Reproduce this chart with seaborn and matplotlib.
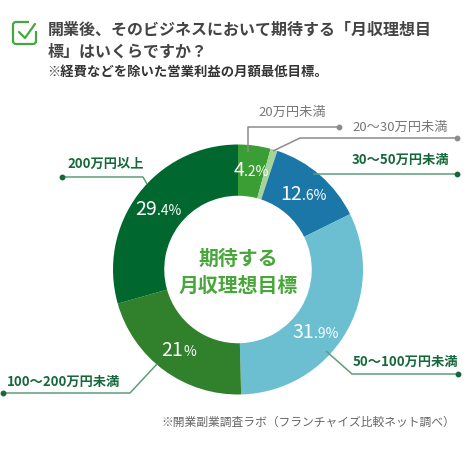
import matplotlib
matplotlib.use("Agg")
import matplotlib.pyplot as plt
import seaborn as sns
import numpy as np
from matplotlib.patches import FancyBboxPatch, Rectangle
from matplotlib.offsetbox import TextArea, HPacker, AnnotationBbox

sns.set_theme(style="white")
plt.rcParams['font.family'] = ['Noto Sans CJK JP', 'DejaVu Sans']

# data
categories = ["20万円未満", "20～30万円未満", "30～50万円未満",
              "50～100万円未満", "100～200万円未満", "200万円以上"]
shares = [4.2, 0.9, 12.6, 31.9, 21.0, 29.4]
pct_main = ["4", None, "12", "31", "21", "29"]
pct_tail = [".2%", None, ".6%", ".9%", "%", ".4%"]
colors = sns.color_palette(["#3b9e35", "#a5d39a", "#1b77a7", "#6bbfd1", "#31802b", "#00672f"])

# small angular nudge for label placement (degrees, clockwise)
label_nudge = [0, 0, 0, 8, 0, 0]

W, H = 470, 450
def py(y):
    # pixel row (top-down) -> data y (bottom-up)
    return H - y

fig = plt.figure(figsize=(4.7, 4.5), dpi=100)
ax = fig.add_axes([0, 0, 1, 1])

cx, cy, R = 238, py(269.5), 125
wedges, _ = ax.pie(shares, colors=colors, startangle=90, counterclock=False,
                   center=(cx, cy), radius=R,
                   wedgeprops=dict(width=R * 0.41, linewidth=0))

# percent labels (big integer part + small decimal part)
for w, a, b, nd in zip(wedges, pct_main, pct_tail, label_nudge):
    if a is None:
        continue
    ang = np.deg2rad((w.theta1 + w.theta2) / 2 - nd)
    x = cx + 100 * np.cos(ang)
    y = cy + 100 * np.sin(ang)
    box = HPacker(children=[
        TextArea(a, textprops=dict(color="white", fontsize=14)),
        TextArea(b, textprops=dict(color="white", fontsize=10)),
    ], align="baseline", pad=0, sep=0)
    ax.add_artist(AnnotationBbox(box, (x, y), frameon=False, box_alignment=(0.5, 0.5)))

# center text
ax.text(cx, py(258), "期待する", ha="center", va="center", fontsize=14.3,
        fontweight="bold", color="#48a63b")
ax.text(cx, py(285), "月収理想目標", ha="center", va="center", fontsize=14.3,
        fontweight="bold", color="#48a63b")

# leader lines: path in pixel coords, label position, colors
gray_line, gray_txt = "#8c8c8c", "#777777"
green_line, green_txt = "#5b9e79", "#16683a"
leaders = [
    ([(248, 152), (248, 127), (339, 127)], (258, 112), gray_line, gray_txt, "normal"),
    ([(273, 151), (300, 138), (457, 138)], (352, 127), gray_line, gray_txt, "normal"),
    ([(313, 174), (457, 174)], (352, 160), green_line, green_txt, "bold"),
    ([(326, 351), (352, 374), (458, 374)], (353, 362), green_line, green_txt, "bold"),
    ([(157, 364), (130, 393), (3, 393)], (7, 382), green_line, green_txt, "bold"),
    ([(147, 184), (143, 177), (62, 177)], (67, 164), green_line, green_txt, "bold"),
]
for cat, (pts, (tx, ty), lc, tc, fw) in zip(categories, leaders):
    xs = [p[0] for p in pts]
    ys = [py(p[1]) for p in pts]
    ax.plot(xs, ys, color=lc, lw=1.1, solid_capstyle="butt")
    ax.plot(xs[-1], ys[-1], "o", color=tc if lc == green_line else lc, ms=3.2)
    ax.text(tx, py(ty), cat, ha="left", va="center", fontsize=9.5,
            color=tc, fontweight=fw)

# title block with check icon
icon = "#43a842"
ax.add_patch(FancyBboxPatch((13, py(44)), 23, 22, boxstyle="round,pad=0,rounding_size=3",
                            fill=False, ec=icon, lw=1.6))
ax.add_patch(Rectangle((29, py(31)), 10, 12, fc="white", ec="none"))
ax.plot([19, 25, 35], [py(32), py(38), py(24)], color=icon, lw=1.6,
        solid_capstyle="round", solid_joinstyle="round")

ax.text(48, py(30), "開業後、そのビジネスにおいて期待する「月収理想目", ha="left", va="center",
        fontsize=11.5, fontweight="bold", color="#444444")
ax.text(48, py(52), "標」はいくらですか？", ha="left", va="center",
        fontsize=11.5, fontweight="bold", color="#444444")
ax.text(47, py(72), "※経費などを除いた営業利益の月額最低目標。", ha="left", va="center",
        fontsize=9.6, fontweight="bold", color="#333333")

ax.text(455, py(422), "※開業副業調査ラボ（フランチャイズ比較ネット調べ）", ha="right",
        va="center", fontsize=8.5, color="#666666")

ax.set_xlim(0, W)
ax.set_ylim(0, H)
ax.set_aspect("equal")
ax.axis("off")

fig.savefig("out.png", dpi=100, facecolor="white")
